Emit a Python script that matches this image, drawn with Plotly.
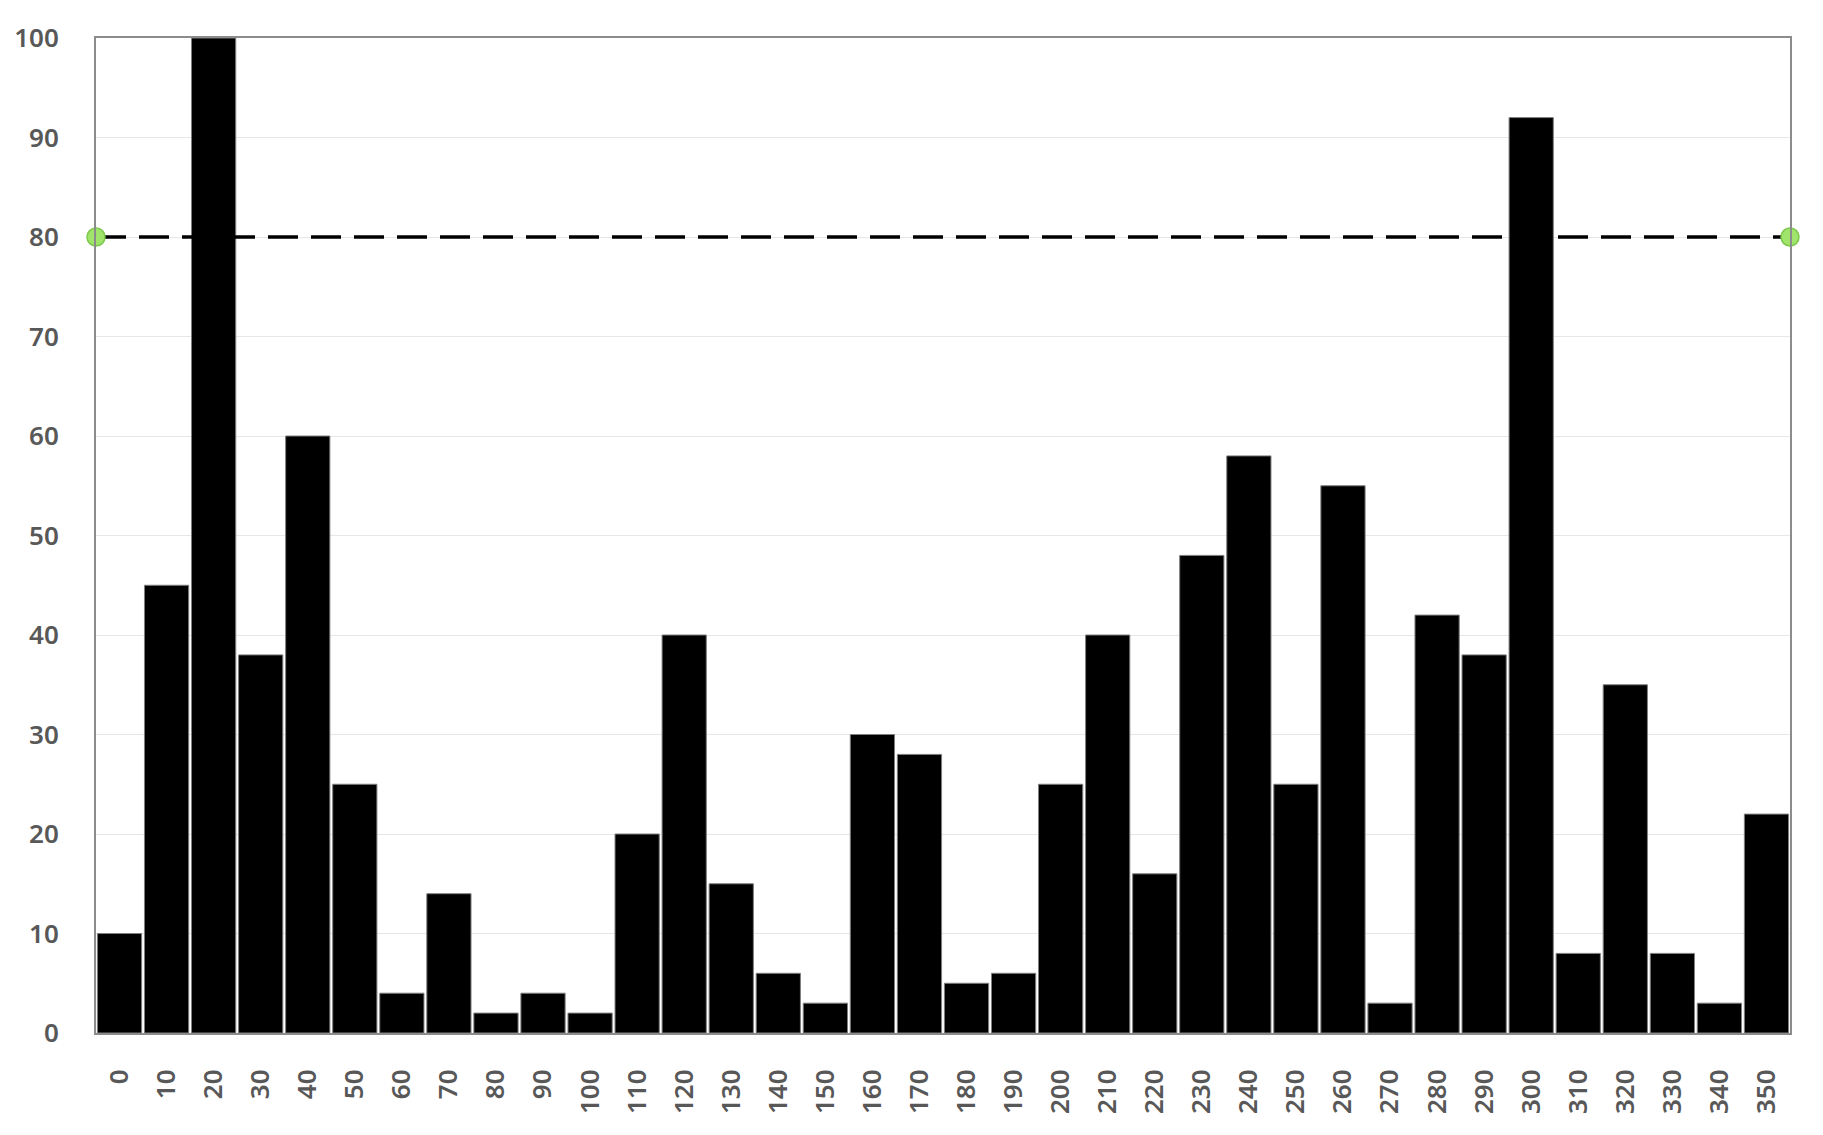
import plotly.graph_objects as go

# angle bins (degrees) and counts
angles = [str(a) for a in range(0, 360, 10)]
counts = [10, 45, 100, 38, 60, 25, 4, 14, 2, 4, 2, 20, 40, 15, 6, 3, 30, 28,
          5, 6, 25, 40, 16, 48, 58, 25, 55, 3, 42, 38, 92, 8, 35, 8, 3, 22]

# dashed threshold line from left edge to right edge
threshold_x = [0, 1]
threshold_y = [80, 80]

y_ticks = list(range(0, 101, 10))

fig = go.Figure()

fig.add_trace(go.Bar(
    x=angles,
    y=counts,
    marker=dict(color="black", line=dict(color="#7f7f7f", width=1)),
    showlegend=False,
))

fig.add_trace(go.Scatter(
    x=threshold_x,
    y=threshold_y,
    xaxis="x2",
    mode="lines+markers",
    line=dict(color="black", width=3.5, dash="30px,13px"),
    marker=dict(size=18, color="#a0e46c", line=dict(color="#7cc84c", width=1.5)),
    cliponaxis=False,
    showlegend=False,
))

# page body has an 8px margin, so the figure is a bit smaller than the window
fig.update_layout(
    width=1815,
    height=1127,
    margin=dict(l=88, r=33, t=30, b=102),
    plot_bgcolor="white",
    paper_bgcolor="white",
    bargap=0.06,
    font=dict(family="Noto Sans", size=26, color="#585858", weight=600),
    xaxis=dict(
        type="category",
        tickangle=-90,
        showline=True,
        linecolor="#8c8c8c",
        linewidth=2,
        mirror=True,
        showgrid=False,
        ticks="",
        ticklabelstandoff=24,
        automargin=False,
    ),
    xaxis2=dict(
        overlaying="x",
        range=[0, 1],
        visible=False,
    ),
    yaxis=dict(
        range=[0, 100],
        tickvals=y_ticks,
        showline=True,
        linecolor="#8c8c8c",
        linewidth=2,
        mirror=True,
        showgrid=True,
        gridcolor="#e6e6e6",
        gridwidth=1,
        zeroline=False,
        ticks="",
        ticklabelstandoff=30,
        automargin=False,
    ),
)

fig.write_html("out.html")
